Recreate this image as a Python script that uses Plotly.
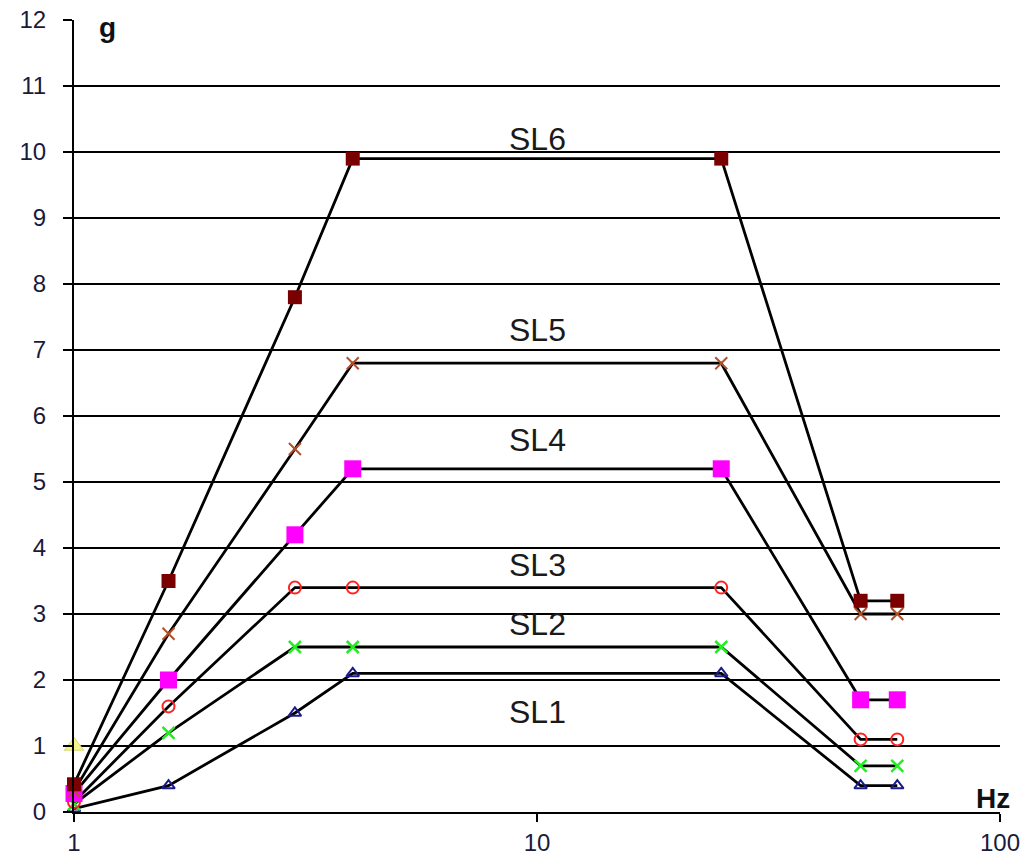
import math
import plotly.graph_objects as go

freq = [1, 1.6, 3, 4, 25, 50, 60]
sl1 = [0.05, 0.4, 1.5, 2.1, 2.1, 0.4, 0.4]
sl2 = [0.12, 1.2, 2.5, 2.5, 2.5, 0.7, 0.7]
sl3 = [0.15, 1.6, 3.4, 3.4, 3.4, 1.1, 1.1]
sl4 = [0.28, 2.0, 4.2, 5.2, 5.2, 1.7, 1.7]
sl5 = [0.32, 2.7, 5.5, 6.8, 6.8, 3.0, 3.0]
sl6 = [0.42, 3.5, 7.8, 9.9, 9.9, 3.2, 3.2]
extra_x = [1]
extra_y = [1.0]

labels = ["SL1", "SL2", "SL3", "SL4", "SL5", "SL6"]
label_x = [10, 10, 10, 10, 10, 10]
label_y = [1.52, 2.85, 3.74, 5.64, 7.3, 10.2]

y_ticks = list(range(0, 13))
x_ticks = [1, 10, 100]

series = [
    (sl1, dict(symbol="triangle-up-open", size=11, color="#1a1a8c", line=dict(width=2))),
    (sl2, dict(symbol="x-thin-open", size=12, color="#22ee22", line=dict(width=2.5))),
    (sl3, dict(symbol="circle-open", size=12, color="#ff2222", line=dict(width=2))),
    (sl4, dict(symbol="square", size=17, color="#ff00ff")),
    (sl5, dict(symbol="x-thin-open", size=12, color="#b0502a", line=dict(width=2))),
    (sl6, dict(symbol="square", size=14, color="#7a0000")),
]

fig = go.Figure()

fig.add_trace(go.Scatter(
    x=extra_x, y=extra_y, mode="markers",
    marker=dict(symbol="triangle-up", size=17, color="#f4f48c",
                line=dict(color="#d8d87a", width=1)),
    showlegend=False, hoverinfo="skip", cliponaxis=False,
))

for (vals, mk), name in zip(series, labels):
    fig.add_trace(go.Scatter(
        x=freq, y=vals, mode="lines+markers", name=name,
        line=dict(color="black", width=2.8),
        marker=mk, showlegend=False, cliponaxis=False,
    ))

for t, lx, ly in zip(labels, label_x, label_y):
    fig.add_annotation(
        x=math.log10(lx), y=ly, xref="x", yref="y",
        text=t, showarrow=False,
        font=dict(family="Liberation Sans, Arial", size=32, color="#1a1a1a"),
    )

fig.add_annotation(x=0.073, y=11.88, xref="x", yref="y", text="<b>g</b>",
                   showarrow=False,
                   font=dict(family="Liberation Sans, Arial", size=28, color="#111"))
fig.add_annotation(x=1.985, y=0.2, xref="x", yref="y", text="<b>Hz</b>",
                   showarrow=False,
                   font=dict(family="Liberation Sans, Arial", size=28, color="#111"))

fig.update_layout(
    width=1028, height=850,
    margin=dict(l=66, r=36, t=12, b=46),
    paper_bgcolor="white", plot_bgcolor="white",
    font=dict(family="Liberation Sans, Arial", size=24, color="#1a1a3a"),
    xaxis=dict(
        type="log", range=[0, 2], tickvals=x_ticks, ticktext=[str(v) for v in x_ticks],
        showgrid=False, zeroline=False, showline=True, linecolor="black", linewidth=2,
        ticks="outside", ticklen=8, tickwidth=2, tickcolor="black",
        tickfont=dict(size=24), automargin=False, ticklabeloverflow="allow",
    ),
    yaxis=dict(
        range=[0, 12], tickvals=y_ticks, showgrid=True, gridcolor="black", gridwidth=2,
        zeroline=False, showline=True, linecolor="black", linewidth=2,
        ticks="outside", ticklen=9, tickwidth=2, tickcolor="black",
        tickfont=dict(size=24), ticklabelstandoff=12, automargin=False,
        ticklabeloverflow="allow",
    ),
)

fig.write_html("out.html")
